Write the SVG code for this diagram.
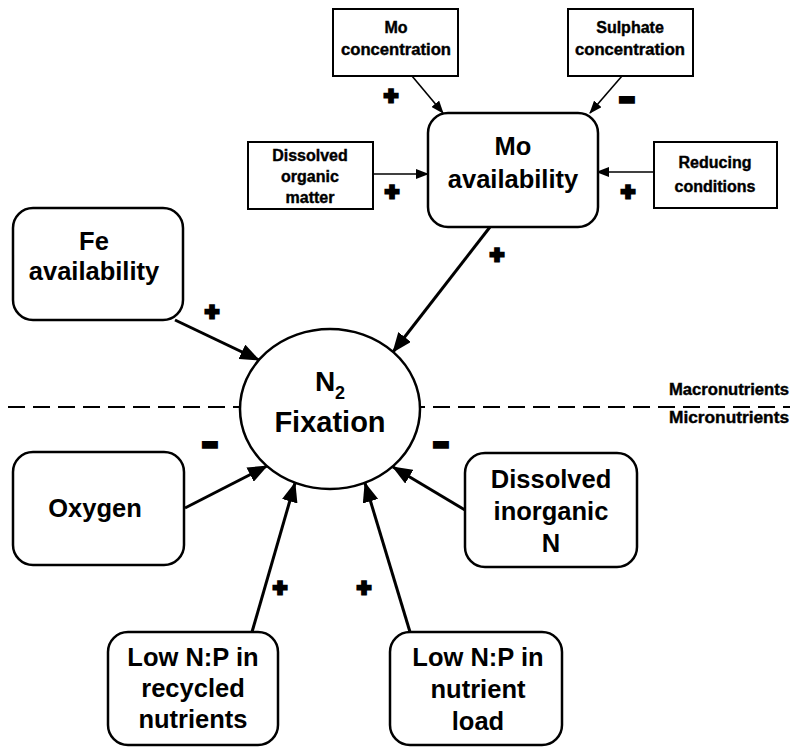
<svg xmlns="http://www.w3.org/2000/svg" width="790" height="747" viewBox="0 0 790 747">
<defs>
<style>
text{font-family:"Liberation Sans",Arial,sans-serif;font-weight:bold;fill:#000;text-anchor:middle}
.big{font-size:25.5px}
.sm{font-size:16px;stroke:#000;stroke-width:0.4}
.lab{font-size:16px;stroke:#000;stroke-width:0.4}
.plus{font-size:24px;stroke:#000;stroke-width:3.2;stroke-linejoin:miter;dominant-baseline:central}
.minus{font-family:"DejaVu Sans",sans-serif;font-size:21px;dominant-baseline:central}
.node{fill:#fff;stroke:#000;stroke-width:2.5}
.snode{fill:#fff;stroke:#000;stroke-width:2}
.main{stroke:#000;stroke-width:3;fill:none;marker-end:url(#big)}
.thin{stroke:#000;stroke-width:1.6;fill:none;marker-end:url(#small)}
</style>
<marker id="big" markerUnits="userSpaceOnUse" markerWidth="20" markerHeight="16" refX="19" refY="8" orient="auto"><path d="M0,0 L20,8 L0,16 z" fill="#000"/></marker>
<marker id="small" markerUnits="userSpaceOnUse" markerWidth="13" markerHeight="10" refX="12" refY="5" orient="auto"><path d="M0,0 L13,5 L0,10 z" fill="#000"/></marker>
</defs>
<rect width="790" height="747" fill="#fff"/>
<g id="divider">
<line x1="8" y1="407" x2="790" y2="407" stroke="#000" stroke-width="2" stroke-dasharray="17 8"/>
<text class="lab" x="729" y="395" textLength="120" lengthAdjust="spacingAndGlyphs">Macronutrients</text>
<text class="lab" x="729" y="423" textLength="120" lengthAdjust="spacingAndGlyphs">Micronutrients</text>
</g>
<g id="connectors">
<line class="thin" x1="412" y1="76" x2="443" y2="113"/>
<line class="thin" x1="622" y1="76" x2="590" y2="113"/>
<line class="thin" x1="373" y1="174" x2="428" y2="174"/>
<line class="thin" x1="654" y1="172" x2="597" y2="172"/>
<line class="main" x1="490" y1="227" x2="393" y2="352"/>
<line class="main" x1="175" y1="320" x2="259" y2="360"/>
<line class="main" x1="185" y1="508" x2="267" y2="466"/>
<line class="main" x1="465" y1="510" x2="393" y2="467"/>
<line class="main" x1="252" y1="632" x2="295" y2="483"/>
<line class="main" x1="410" y1="632" x2="365" y2="483"/>
</g>
<g id="signs">
<text class="plus" x="391" y="95">+</text>
<text class="plus" x="392" y="191">+</text>
<text class="minus" x="627" y="98">▬</text>
<text class="plus" x="628" y="191">+</text>
<text class="plus" x="497" y="254">+</text>
<text class="plus" x="212" y="311">+</text>
<text class="minus" x="210" y="443">▬</text>
<text class="minus" x="441" y="443">▬</text>
<text class="plus" x="280" y="587">+</text>
<text class="plus" x="364" y="587">+</text>
</g>
<g id="n2fixation">
<ellipse class="node" cx="330" cy="409" rx="90" ry="80"/>
<text x="330" y="391" style="font-size:28px">N<tspan style="font-size:18px" dy="8">2</tspan></text>
<text x="330" y="432" style="font-size:29px">Fixation</text>
</g>
<g id="mo-concentration">
<rect class="snode" x="333" y="9" width="125" height="67"/>
<text class="sm" x="396" y="33">Mo</text>
<text class="sm" x="396" y="55" textLength="110" lengthAdjust="spacingAndGlyphs">concentration</text>
</g>
<g id="sulphate-concentration">
<rect class="snode" x="568" y="9" width="125" height="67"/>
<text class="sm" x="630" y="33">Sulphate</text>
<text class="sm" x="630" y="55" textLength="110" lengthAdjust="spacingAndGlyphs">concentration</text>
</g>
<g id="dissolved-organic-matter">
<rect class="snode" x="248" y="142" width="125" height="67"/>
<text class="sm" x="310" y="161">Dissolved</text>
<text class="sm" x="310" y="182">organic</text>
<text class="sm" x="310" y="203">matter</text>
</g>
<g id="reducing-conditions">
<rect class="snode" x="654" y="142" width="123" height="66"/>
<text class="sm" x="715" y="168">Reducing</text>
<text class="sm" x="715" y="192">conditions</text>
</g>
<g id="mo-availability">
<rect class="node" x="428" y="113" width="170" height="114" rx="20"/>
<text class="big" x="513" y="155">Mo</text>
<text class="big" x="513" y="188">availability</text>
</g>
<g id="fe-availability">
<rect class="node" x="13" y="208" width="170" height="112" rx="20"/>
<text class="big" x="94" y="250">Fe</text>
<text class="big" x="94" y="280">availability</text>
</g>
<g id="oxygen">
<rect class="node" x="13" y="452" width="171" height="113" rx="20"/>
<text class="big" x="95" y="517">Oxygen</text>
</g>
<g id="dissolved-inorganic-n">
<rect class="node" x="465" y="453" width="172" height="114" rx="20"/>
<text class="big" x="551" y="488">Dissolved</text>
<text class="big" x="551" y="520">inorganic</text>
<text class="big" x="551" y="552">N</text>
</g>
<g id="low-np-recycled">
<rect class="node" x="108" y="632" width="170" height="113" rx="20"/>
<text class="big" x="193" y="666">Low N:P in</text>
<text class="big" x="193" y="697">recycled</text>
<text class="big" x="193" y="728">nutrients</text>
</g>
<g id="low-np-load">
<rect class="node" x="390" y="632" width="172" height="113" rx="20"/>
<text class="big" x="478" y="666">Low N:P in</text>
<text class="big" x="478" y="698">nutrient</text>
<text class="big" x="478" y="730">load</text>
</g>
</svg>
